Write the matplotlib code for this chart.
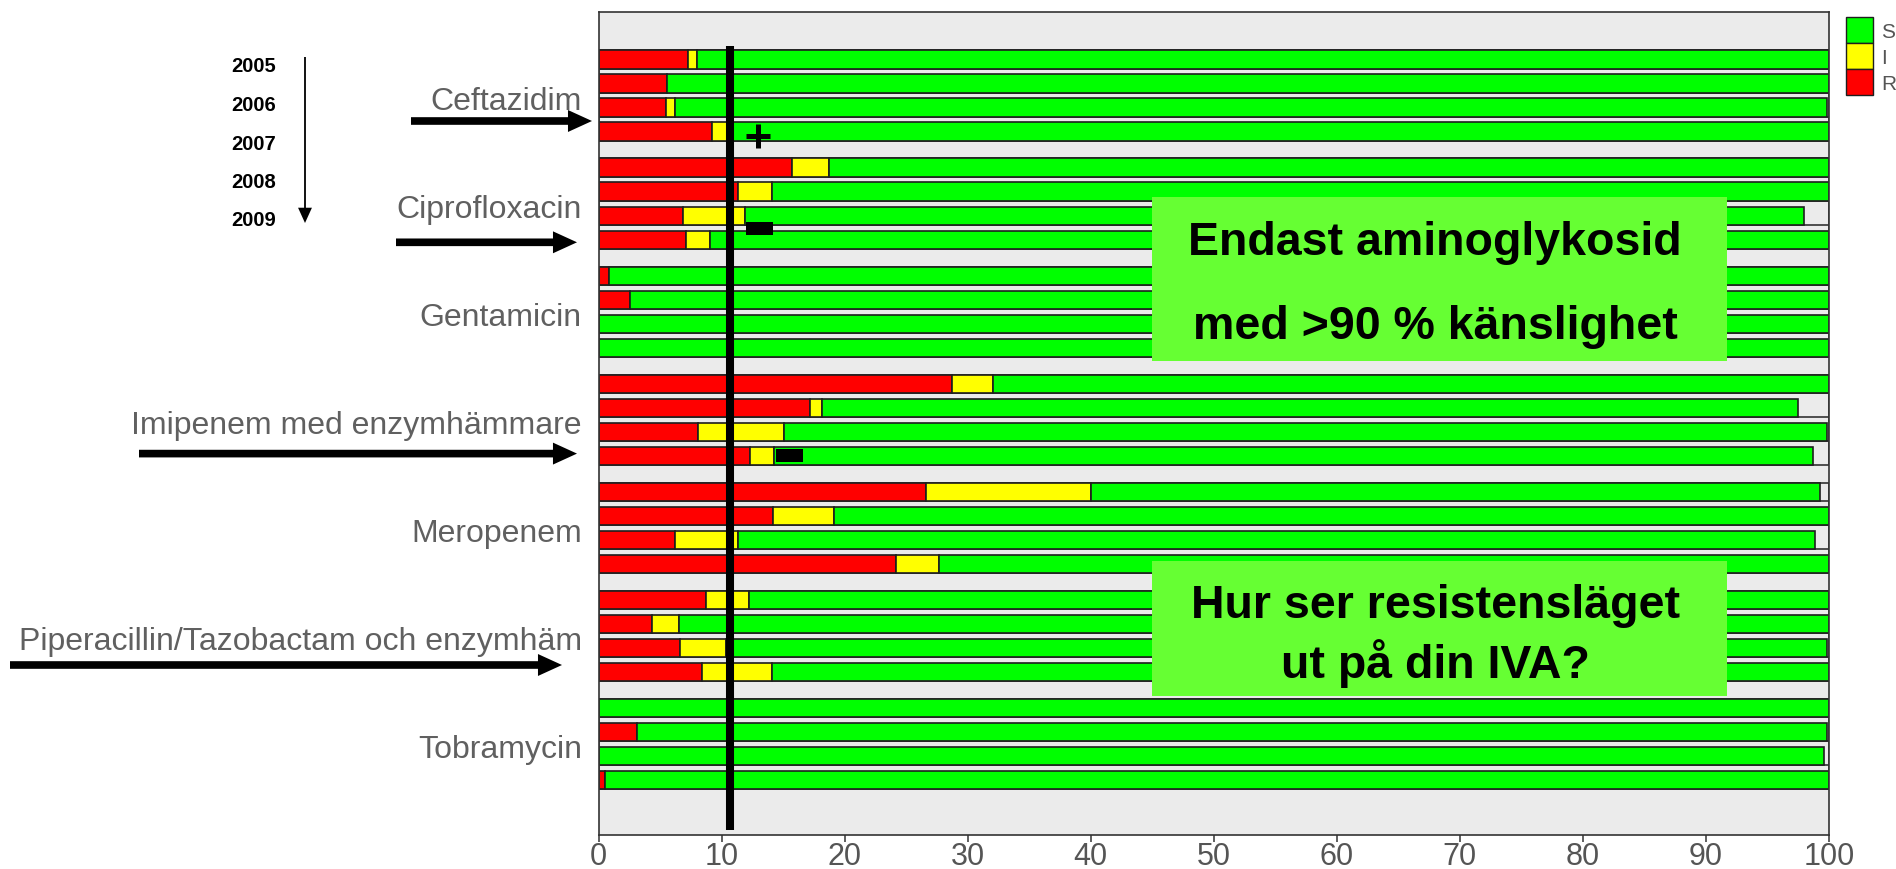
import numpy as np
import matplotlib.pyplot as plt
from matplotlib.patches import Rectangle, Patch

plt.rcParams['font.family'] = ['Liberation Sans', 'DejaVu Sans']

# Data: % resistant / intermediate / susceptible, 4 bars per antibiotic (top to bottom)
antibiotics = ['Ceftazidim', 'Ciprofloxacin', 'Gentamicin', 'Imipenem med enzymhämmare',
               'Meropenem', 'Piperacillin/Tazobactam och enzymhäm', 'Tobramycin']
years = ['2005', '2006', '2007', '2008', '2009']

R = [[7.3, 5.6, 5.45, 9.2],
     [15.7, 11.3, 6.85, 7.1],
     [0.85, 2.55, 0.0, 0.0],
     [28.7, 17.2, 8.1, 12.3],
     [26.6, 14.2, 6.25, 24.2],
     [8.7, 4.35, 6.6, 8.4],
     [0.0, 3.1, 0.0, 0.5]]
I = [[0.7, 0.0, 0.75, 1.3],
     [3.0, 2.8, 5.05, 2.0],
     [0.0, 0.0, 0.0, 0.0],
     [3.4, 1.0, 7.0, 1.95],
     [13.4, 4.9, 5.05, 3.5],
     [3.5, 2.2, 3.8, 5.7],
     [0.0, 0.0, 0.0, 0.0]]
S = [[92.0, 94.4, 93.6, 89.5],
     [81.3, 85.9, 86.1, 90.9],
     [99.15, 97.45, 100.0, 100.0],
     [67.9, 79.3, 84.7, 84.45],
     [59.3, 80.9, 87.6, 72.3],
     [87.8, 93.45, 89.4, 85.9],
     [100.0, 96.7, 99.6, 99.5]]

breakpoint_pct = 10.7   # thick vertical reference line

W, H = 1896, 870


def px(x, y):
    # figure pixels (origin top-left) -> figure fraction
    return x / W, 1 - y / H


fig = plt.figure(figsize=(W / 100, H / 100), dpi=100)
ax = fig.add_axes([598.5 / W, (H - 835.5) / H, (1829 - 598.5) / W, (835.5 - 12.5) / H])
ax.set_facecolor('#ebebeb')

R = np.array(R)
I = np.array(I)
S = np.array(S)
ngroup, nbar = R.shape
ys = np.array([[g * 4.5 + j for j in range(nbar)] for g in range(ngroup)])

bar_h = 0.76
gap = 1 - bar_h
edge = '#1e1e1e'

# background box for every row (0-100)
for g in range(ngroup):
    for j in range(nbar):
        top = ys[g, j] - bar_h / 2 - (gap if j > 0 else 0)
        bot = ys[g, j] + bar_h / 2 + (gap if j < nbar - 1 else 0)
        ax.barh((top + bot) / 2, 100, height=bot - top, color='#ebebeb',
                edgecolor='#333333', lw=1.2, zorder=1)

y = ys.ravel()
r, i, s = R.ravel(), I.ravel(), S.ravel()
ax.barh(y, r, height=bar_h, color='#ff0000', edgecolor=edge, lw=1.2, zorder=2)
ax.barh(y, i, left=r, height=bar_h, color='#ffff00', edgecolor=edge, lw=1.2, zorder=2)
ax.barh(y, s, left=r + i, height=bar_h, color='#00ff00', edgecolor=edge, lw=1.2, zorder=2)

ax.vlines(breakpoint_pct, -0.55, 32.1, color='black', lw=5.8, zorder=5, capstyle='butt')

# +/- marks
ax.plot(13.0, 3.2, marker='+', ms=16.6, mew=3.6, color='black', zorder=6)
ax.barh([7.03, 16.5], [2.2, 2.2], left=[11.95, 14.4], height=[0.55, 0.53],
        color='black', zorder=6)

# green text boxes
ax.add_patch(Rectangle((45.0, 5.73), 46.7, 6.82, fc='#66ff33', ec='none', zorder=7))
ax.add_patch(Rectangle((45.0, 20.9), 46.7, 5.6, fc='#66ff33', ec='none', zorder=7))
box_txt = dict(ha='center', va='center', fontsize=33.5, fontweight='bold', color='black', zorder=8)
ax.text(68.0, 7.6, 'Endast aminoglykosid', **box_txt)
ax.text(68.0, 11.1, 'med >90 % känslighet', **box_txt)
ax.text(68.0, 22.7, 'Hur ser resistensläget', **box_txt)
ax.text(68.0, 25.1, 'ut på din IVA?', **box_txt)

ax.set_xlim(0, 100)
ax.set_ylim(32.27, -2.0)
ax.set_xticks(np.arange(0, 101, 10))
ax.tick_params(axis='x', labelsize=22, labelcolor='#555555', length=5, width=1.1,
               color='#333333', pad=0)
ax.set_yticks([g * 4.5 + 1.58 for g in range(ngroup)])
ax.set_yticklabels(antibiotics)
ax.tick_params(axis='y', labelsize=23, labelcolor='#606060', length=0, pad=12)
for sp in ax.spines.values():
    sp.set_color('#333333')
    sp.set_linewidth(1.2)

# year labels with down arrow
for k, yr in enumerate(years):
    fig.text(*px(254, 67 + k * 38.5), yr, ha='center', va='center',
             fontsize=14.5, fontweight='bold')
ax.annotate('', xy=px(305, 224), xytext=px(305, 58), xycoords='figure fraction',
            arrowprops=dict(arrowstyle='simple,head_length=11,head_width=10,tail_width=1.3',
                            mutation_scale=1, fc='black', lw=0, shrinkA=0, shrinkB=0))

# thick pointer arrows
pointers = [(411, 592, 122), (396, 577, 243.3), (139, 577, 454.6), (10, 562, 666)]
for x0, x1, yy in pointers:
    ax.annotate('', xy=px(x1, yy), xytext=px(x0, yy), xycoords='figure fraction',
                arrowprops=dict(arrowstyle='simple,head_length=17.3,head_width=15.8,tail_width=5.5',
                                mutation_scale=1, fc='black', lw=0, shrinkA=0, shrinkB=0))

handles = [Patch(fc='#00ff00', ec=edge), Patch(fc='#ffff00', ec=edge), Patch(fc='#ff0000', ec=edge)]
fig.legend(handles, ['S', 'I', 'R'], loc='upper left', bbox_to_anchor=px(1846, 18),
           frameon=False, fontsize=15, labelcolor='#555555', handlelength=1.3,
           handleheight=1.55, labelspacing=0, borderpad=0, borderaxespad=0, handletextpad=0.4)

fig.savefig('out.png', dpi=100)
